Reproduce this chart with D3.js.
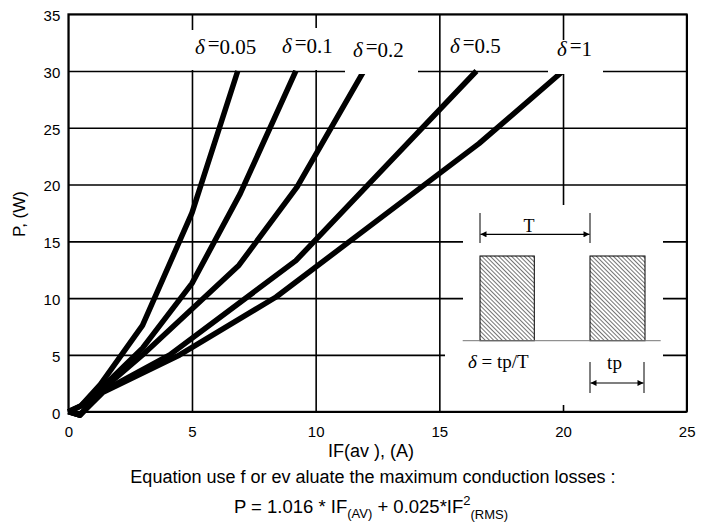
<!DOCTYPE html>
<html>
<head>
<meta charset="utf-8">
<script src="https://cdn.jsdelivr.net/npm/d3@7"></script>
<style>
  body { margin: 0; background: #fff; }
  svg { display: block; }
  .tick text { font-family: "Liberation Sans", Arial, sans-serif; font-size: 15px; fill: #000; }
  .serif { font-family: "Liberation Serif", "Times New Roman", serif; }
  .sans { font-family: "Liberation Sans", Arial, sans-serif; }
</style>
</head>
<body>
<svg id="chart" width="713" height="523"></svg>
<script>
// values
var xTicks = [0, 5, 10, 15, 20, 25];
var yTicks = [0, 5, 10, 15, 20, 25, 30, 35];

var dutyLabels = ["0.05", "0.1", "0.2", "0.5", "1"];

var if005 = [0, 0.5, 1.3, 3.0, 5.0, 6.85];
var p005  = [0, 0.5, 2.4, 7.6, 17.5, 30];
var if01  = [0, 0.5, 1.4, 3.0, 5.0, 6.95, 9.2];
var p01   = [0, 0.5, 2.2, 5.6, 11.3, 19.2, 30];
var if02  = [0, 0.47, 1.4, 3.0, 6.9, 9.25, 11.95];
var p02   = [0, -0.3, 2.0, 5.0, 12.9, 19.8, 30];
var if05  = [0, 0.47, 1.4, 4.1, 9.2, 13.0, 16.5];
var p05   = [0, -0.3, 1.8, 5.0, 13.3, 22.0, 30];
var if1   = [0, 0.47, 1.4, 4.5, 8.4, 11.8, 16.6, 20.0];
var p1    = [0, -0.3, 1.7, 5.0, 10.1, 15.7, 23.6, 30];

var series = [[if005, p005], [if01, p01], [if02, p02], [if05, p05], [if1, p1]];

var svg = d3.select("#chart");

var x = d3.scaleLinear().domain([0, 25]).range([68.3, 686.7]);
var y = d3.scaleLinear().domain([0, 35]).range([411.7, 14.2]);
var W = x(25) - x(0), H = y(0) - y(35);

// grid + tick labels
var gx = svg.append("g")
    .attr("transform", "translate(0," + y(0) + ")")
    .call(d3.axisBottom(x).tickValues(xTicks).tickSize(-H).tickSizeOuter(0).tickPadding(15));
var gy = svg.append("g")
    .attr("transform", "translate(" + x(0) + ",0)")
    .call(d3.axisLeft(y).tickValues(yTicks).tickSize(-W).tickSizeOuter(0).tickPadding(8));
gy.selectAll(".tick text").attr("dy", "0.42em");
svg.selectAll(".domain").remove();
svg.selectAll(".tick line").attr("stroke", "#000").attr("stroke-width", 1.6);

svg.append("rect")
    .attr("x", x(0)).attr("y", y(35)).attr("width", W).attr("height", H)
    .attr("fill", "none").attr("stroke", "#000").attr("stroke-width", 1.8);

// curves
var line = d3.line()
    .x(function (d) { return x(d[0]); })
    .y(function (d) { return y(d[1]); });

svg.append("g").selectAll("path")
    .data(series)
    .enter().append("path")
    .attr("d", function (s) { return line(d3.zip(s[0], s[1])); })
    .attr("fill", "none")
    .attr("stroke", "#000")
    .attr("stroke-width", 5.5)
    .attr("stroke-linejoin", "round");

// duty labels with white backgrounds
var labelBox = [[186, 30, 84, 40], [270, 28, 75, 42], [345, 35, 73, 39], null, [548, 40, 55, 34]];
var labelPos = [[195, 54], [282, 53], [353, 57], [450, 53], [557, 56]];

svg.append("g").selectAll("rect")
    .data(labelBox.filter(function (b) { return b; }))
    .enter().append("rect")
    .attr("x", function (b) { return b[0]; })
    .attr("y", function (b) { return b[1]; })
    .attr("width", function (b) { return b[2]; })
    .attr("height", function (b) { return b[3]; })
    .attr("fill", "#fff");

var lbl = svg.append("g").selectAll("text")
    .data(dutyLabels)
    .enter().append("text")
    .attr("class", "serif")
    .attr("font-size", 21)
    .attr("x", function (d, i) { return labelPos[i][0]; })
    .attr("y", function (d, i) { return labelPos[i][1]; });
lbl.append("tspan").attr("font-style", "italic").text("\u03b4");
lbl.append("tspan").attr("dx", 3).attr("dy", -3).text("=");
lbl.append("tspan").attr("dy", 3).text(function (d) { return d; });

// inset: pulse train sketch
var inset = svg.append("g");
inset.append("rect").attr("x", 463).attr("y", 205).attr("width", 200).attr("height", 200).attr("fill", "#fff");
inset.append("rect").attr("x", 445).attr("y", 345).attr("width", 30).attr("height", 28).attr("fill", "#fff");

var defs = svg.append("defs");
var pat = defs.append("pattern")
    .attr("id", "hatch")
    .attr("patternUnits", "userSpaceOnUse")
    .attr("width", 3).attr("height", 3)
    .attr("patternTransform", "rotate(-45)");
pat.append("line").attr("x1", 0).attr("y1", 0).attr("x2", 0).attr("y2", 3)
    .attr("stroke", "#000").attr("stroke-width", 1.1);

var mk = defs.append("marker")
    .attr("id", "arr")
    .attr("viewBox", "0 0 10 10")
    .attr("refX", 10).attr("refY", 5)
    .attr("markerWidth", 9).attr("markerHeight", 6)
    .attr("markerUnits", "userSpaceOnUse")
    .attr("orient", "auto-start-reverse");
mk.append("path").attr("d", "M0,0L10,5L0,10Z").attr("fill", "#000");

[[480, 54.3], [590, 55]].forEach(function (p) {
  inset.append("rect")
      .attr("x", p[0]).attr("y", 256).attr("width", p[1]).attr("height", 84.7)
      .attr("fill", "url(#hatch)").attr("stroke", "#000").attr("stroke-width", 1);
});
inset.append("line").attr("x1", 462.7).attr("x2", 660.7).attr("y1", 340.7).attr("y2", 340.7)
    .attr("stroke", "#777").attr("stroke-width", 1);

// T
inset.append("line").attr("x1", 480).attr("x2", 480).attr("y1", 213).attr("y2", 243).attr("stroke", "#000");
inset.append("line").attr("x1", 590).attr("x2", 590).attr("y1", 213).attr("y2", 243).attr("stroke", "#000");
inset.append("line").attr("x1", 480.5).attr("x2", 589.5).attr("y1", 234.3).attr("y2", 234.3)
    .attr("stroke", "#000").attr("stroke-width", 1.2)
    .attr("marker-start", "url(#arr)").attr("marker-end", "url(#arr)");
inset.append("text").attr("class", "serif").attr("font-size", 18)
    .attr("x", 529).attr("y", 231.5).attr("text-anchor", "middle").text("T");

// tp
inset.append("line").attr("x1", 590).attr("x2", 590).attr("y1", 362).attr("y2", 393).attr("stroke", "#000");
inset.append("line").attr("x1", 644).attr("x2", 644).attr("y1", 362).attr("y2", 393).attr("stroke", "#000");
inset.append("line").attr("x1", 590.5).attr("x2", 643.5).attr("y1", 383).attr("y2", 383)
    .attr("stroke", "#000").attr("stroke-width", 1.2)
    .attr("marker-start", "url(#arr)").attr("marker-end", "url(#arr)");
inset.append("text").attr("class", "serif").attr("font-size", 19)
    .attr("x", 614.5).attr("y", 369).attr("text-anchor", "middle").text("tp");

var dt = inset.append("text").attr("class", "serif").attr("font-size", 19)
    .attr("x", 468).attr("y", 368);
dt.append("tspan").attr("font-style", "italic").text("\u03b4");
dt.append("tspan").text(" = tp/T");

// axis titles and the equation
svg.append("text").attr("class", "sans").attr("font-size", 17)
    .attr("transform", "translate(25,214) rotate(-90)")
    .attr("text-anchor", "middle").text("P, (W)");

svg.append("text").attr("class", "sans").attr("font-size", 18)
    .attr("x", 371).attr("y", 457).attr("text-anchor", "middle")
    .attr("xml:space", "preserve").text("IF(av ), (A)");

svg.append("text").attr("class", "sans").attr("font-size", 18)
    .attr("x", 373).attr("y", 483).attr("text-anchor", "middle")
    .attr("xml:space", "preserve").text("Equation use f or ev aluate the maximum conduction losses :");

var eq = svg.append("text").attr("class", "sans").attr("font-size", 18.5)
    .attr("x", 371).attr("y", 513).attr("text-anchor", "middle").attr("xml:space", "preserve");
eq.append("tspan").text("P = 1.016 * IF");
eq.append("tspan").attr("font-size", 13).attr("dy", 5).text("(AV)");
eq.append("tspan").attr("dy", -5).text(" + 0.025*IF");
eq.append("tspan").attr("font-size", 13).attr("dy", -8).text("2");
eq.append("tspan").attr("font-size", 13).attr("dy", 14).text("(RMS)");
</script>
</body>
</html>
